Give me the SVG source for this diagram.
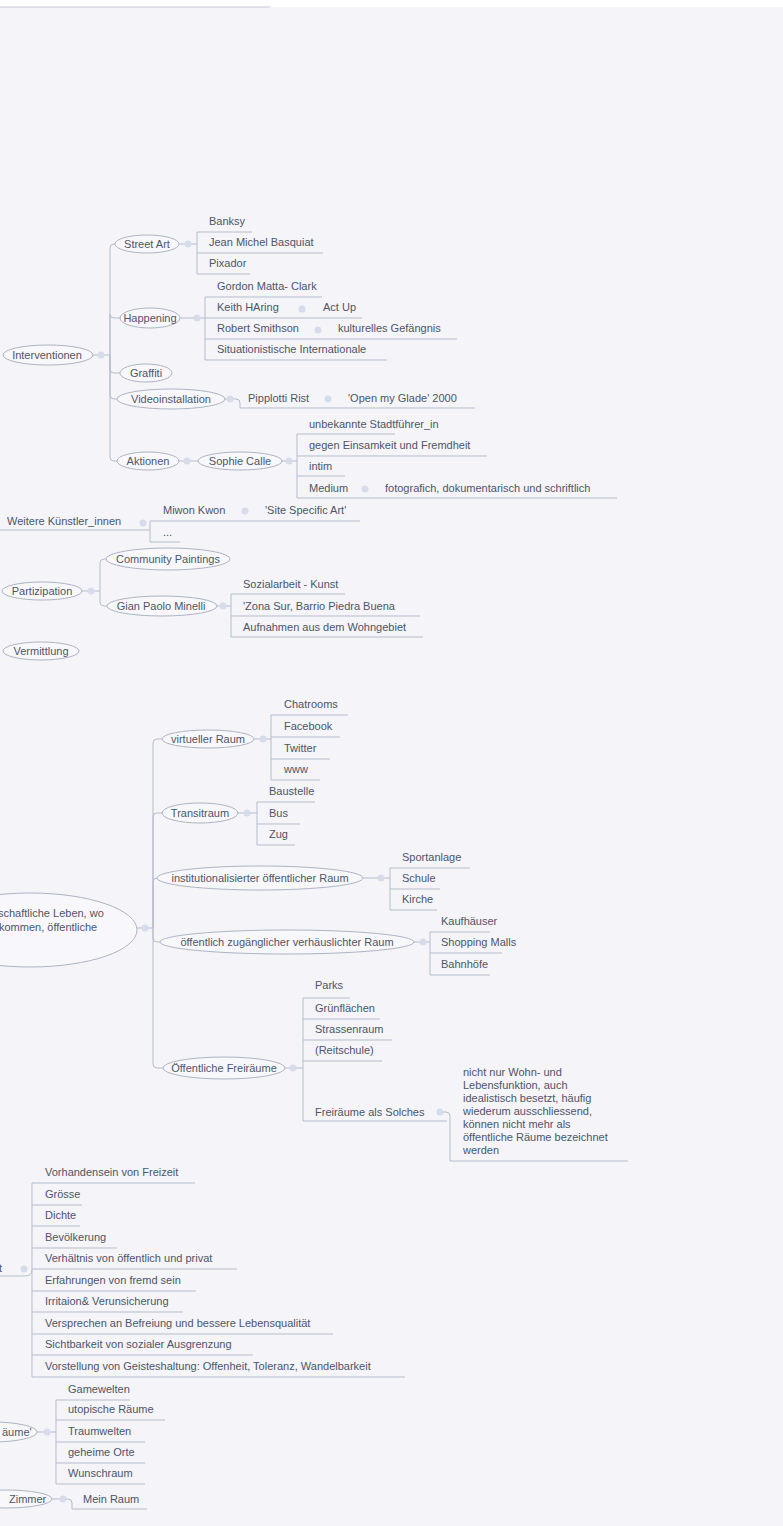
<svg xmlns="http://www.w3.org/2000/svg" width="783" height="1526" viewBox="0 0 783 1526">
<style>
.t{font-family:"Liberation Sans",Arial,sans-serif;font-size:11px;fill:#4e5568}
.m{text-anchor:middle}
.e{fill:#f8f8fc;stroke:#aeb4c4;stroke-width:1}
.c{fill:none;stroke:#b6bdcc;stroke-width:1}
.u{stroke:#b6bdcc;stroke-width:1}
.d{fill:#d6dcea}
</style>
<rect x="0" y="0" width="783" height="1526" fill="#f4f4f9"/>
<rect x="0" y="0" width="783" height="7" fill="#ffffff"/>
<line x1="0" y1="7" x2="270" y2="7" stroke="#c8c8d2" stroke-width="1"/>

<g id="connectors">
  <!-- Interventionen -->
  <path class="c" d="M93 355 H110 M110 355 V248 Q110 244 114 244 H115 M110 355 V314 Q110 318 114 318 H120 M110 355 V369 Q110 373 114 373 H120 M110 355 V395 Q110 399 114 399 H117 M110 355 V457 Q110 461 114 461 H117"/>
  <circle class="d" cx="101" cy="355" r="3.5"/>
  <!-- Street Art -->
  <path class="c" d="M179 244 H197 M197 232 V274"/>
  <circle class="d" cx="188" cy="244" r="3.5"/>
  <!-- Happening -->
  <path class="c" d="M180 318 H205 M205 297 V360"/>
  <circle class="d" cx="197" cy="318" r="3.5"/>
  <circle class="d" cx="302" cy="309" r="3.5"/>
  <circle class="d" cx="318" cy="330" r="3.5"/>
  <!-- Videoinstallation -->
  <path class="c" d="M225 399 H236 Q240 399 240 403 V408"/>
  <circle class="d" cx="230" cy="399" r="3.5"/>
  <circle class="d" cx="328" cy="399" r="3.5"/>
  <!-- Aktionen -->
  <path class="c" d="M179 461 H198"/>
  <circle class="d" cx="187" cy="461" r="3.5"/>
  <path class="c" d="M282 461 H297 M297 434 V498"/>
  <circle class="d" cx="289" cy="461" r="3.5"/>
  <circle class="d" cx="365" cy="489" r="3.5"/>
  <!-- Weitere -->
  <path class="c" d="M137 530 H150 M150 521 V542"/>
  <circle class="d" cx="143" cy="523" r="3.5"/>
  <circle class="d" cx="245" cy="511" r="3.5"/>
  <!-- Partizipation -->
  <path class="c" d="M82 591 H100 M100 591 V563 Q100 559 104 559 H106 M100 591 V602 Q100 606 104 606 H107"/>
  <circle class="d" cx="91" cy="591" r="3.5"/>
  <path class="c" d="M217 606 H231 M231 594 V637"/>
  <circle class="d" cx="223" cy="606" r="3.5"/>
  <!-- Raum root -->
  <path class="c" d="M137 928 H153 M153 928 V743 Q153 739 157 739 H162 M153 928 V817 Q153 813 157 813 H162 M153 928 V882 Q153 878 157 878 H157 M153 928 V938 Q153 942 157 942 H160 M153 928 V1064 Q153 1068 157 1068 H163"/>
  <circle class="d" cx="145" cy="928" r="3.5"/>
  <path class="c" d="M254 739 H271 M271 715 V780"/>
  <circle class="d" cx="263" cy="739" r="3.5"/>
  <path class="c" d="M238 813 H257 M257 802 V845"/>
  <circle class="d" cx="247" cy="813" r="3.5"/>
  <path class="c" d="M363 878 H390 M390 868 V910"/>
  <circle class="d" cx="381" cy="878" r="3.5"/>
  <path class="c" d="M414 942 H430 M430 932 V975"/>
  <circle class="d" cx="423" cy="942" r="3.5"/>
  <path class="c" d="M285 1068 H303 M303 998 V1121"/>
  <circle class="d" cx="293" cy="1068" r="3.5"/>
  <path class="c" d="M440 1112 H446 Q450 1112 450 1116 V1161"/>
  <circle class="d" cx="440" cy="1112" r="3.5"/>
  <!-- bottom list -->
  <path class="c" d="M16 1276 H24 Q32 1276 32 1270 M32 1183 V1377"/>
  <circle class="d" cx="24" cy="1269" r="3.5"/>
  <path class="c" d="M37 1432 H56 M56 1400 V1484"/>
  <circle class="d" cx="47" cy="1432" r="3.5"/>
  <path class="c" d="M52 1499 H68 Q72 1499 72 1503 V1509"/>
  <circle class="d" cx="63" cy="1499" r="3.5"/>
</g>

<g id="n-interventionen"><ellipse class="e" cx="48" cy="355" rx="45" ry="10"/><text class="t m" x="47" y="359">Interventionen</text></g>
<g id="n-streetart"><ellipse class="e" cx="147" cy="244" rx="32" ry="9"/><text class="t m" x="147" y="248">Street Art</text></g>
<g id="n-banksy"><text class="t" x="209" y="225">Banksy</text><line class="u" x1="197" y1="232" x2="252" y2="232"/></g>
<g id="n-basquiat"><text class="t" x="209" y="246">Jean Michel Basquiat</text><line class="u" x1="197" y1="253" x2="323" y2="253"/></g>
<g id="n-pixador"><text class="t" x="209" y="267">Pixador</text><line class="u" x1="197" y1="274" x2="250" y2="274"/></g>
<g id="n-happening"><ellipse class="e" cx="150" cy="318" rx="30" ry="10"/><text class="t m" x="150" y="322">Happening</text></g>
<g id="n-gordon"><text class="t" x="217" y="290">Gordon Matta- Clark</text><line class="u" x1="205" y1="297" x2="322" y2="297"/></g>
<g id="n-keith"><text class="t" x="217" y="311">Keith HAring</text><line class="u" x1="205" y1="318" x2="312" y2="318"/></g>
<g id="n-actup"><text class="t" x="323" y="311">Act Up</text><line class="u" x1="312" y1="318" x2="362" y2="318"/></g>
<g id="n-smithson"><text class="t" x="217" y="332">Robert Smithson</text><line class="u" x1="205" y1="339" x2="328" y2="339"/></g>
<g id="n-gefaengnis"><text class="t" x="338" y="332">kulturelles Gefängnis</text><line class="u" x1="328" y1="339" x2="457" y2="339"/></g>
<g id="n-situationisten"><text class="t" x="217" y="353">Situationistische Internationale</text><line class="u" x1="205" y1="360" x2="387" y2="360"/></g>
<g id="n-graffiti"><ellipse class="e" cx="146" cy="373" rx="26" ry="9"/><text class="t m" x="146" y="377">Graffiti</text></g>
<g id="n-video"><ellipse class="e" cx="171" cy="399" rx="54" ry="10"/><text class="t m" x="171" y="403">Videoinstallation</text></g>
<g id="n-pipplotti"><text class="t" x="248" y="402">Pipplotti Rist</text><line class="u" x1="240" y1="408" x2="338" y2="408"/></g>
<g id="n-glade"><text class="t" x="348" y="402">'Open my Glade' 2000</text><line class="u" x1="338" y1="408" x2="475" y2="408"/></g>
<g id="n-aktionen"><ellipse class="e" cx="148" cy="461" rx="31" ry="9"/><text class="t m" x="148" y="465">Aktionen</text></g>
<g id="n-calle"><ellipse class="e" cx="240" cy="461" rx="42" ry="9"/><text class="t m" x="240" y="465">Sophie Calle</text></g>
<g id="n-stadtfuehrer"><text class="t" x="309" y="428">unbekannte Stadtführer_in</text><line class="u" x1="297" y1="434" x2="395" y2="434"/></g>
<g id="n-einsamkeit"><text class="t" x="309" y="449">gegen Einsamkeit und Fremdheit</text><line class="u" x1="297" y1="456" x2="487" y2="456"/></g>
<g id="n-intim"><text class="t" x="309" y="470">intim</text><line class="u" x1="297" y1="476" x2="345" y2="476"/></g>
<g id="n-medium"><text class="t" x="309" y="492">Medium</text><line class="u" x1="297" y1="498" x2="375" y2="498"/></g>
<g id="n-fotografich"><text class="t" x="385" y="492">fotografich, dokumentarisch und schriftlich</text><line class="u" x1="375" y1="498" x2="617" y2="498"/></g>
<g id="n-weitere"><text class="t" x="7" y="525">Weitere Künstler_innen</text><line class="u" x1="0" y1="530" x2="137" y2="530"/></g>
<g id="n-kwon"><text class="t" x="163" y="514">Miwon Kwon</text><line class="u" x1="150" y1="521" x2="252" y2="521"/></g>
<g id="n-sitespecific"><text class="t" x="265" y="514">'Site Specific Art'</text><line class="u" x1="252" y1="521" x2="360" y2="521"/></g>
<g id="n-dots"><text class="t" x="163" y="536">...</text><line class="u" x1="150" y1="542" x2="180" y2="542"/></g>
<g id="n-partizipation"><ellipse class="e" cx="42" cy="591" rx="40" ry="9"/><text class="t m" x="42" y="595">Partizipation</text></g>
<g id="n-community"><ellipse class="e" cx="168" cy="559" rx="62" ry="11"/><text class="t m" x="168" y="563">Community Paintings</text></g>
<g id="n-minelli"><ellipse class="e" cx="162" cy="606" rx="55" ry="10"/><text class="t m" x="161" y="610">Gian Paolo Minelli</text></g>
<g id="n-sozialarbeit"><text class="t" x="243" y="588">Sozialarbeit - Kunst</text><line class="u" x1="231" y1="594" x2="345" y2="594"/></g>
<g id="n-zonasur"><text class="t" x="243" y="610">'Zona Sur, Barrio Piedra Buena</text><line class="u" x1="231" y1="616" x2="420" y2="616"/></g>
<g id="n-aufnahmen"><text class="t" x="243" y="631">Aufnahmen aus dem Wohngebiet</text><line class="u" x1="231" y1="637" x2="423" y2="637"/></g>
<g id="n-vermittlung"><ellipse class="e" cx="41" cy="651" rx="38" ry="9"/><text class="t m" x="41" y="655">Vermittlung</text></g>

<g id="n-raum-root"><ellipse class="e" cx="30" cy="930" rx="107" ry="37"/><text class="t" x="-2" y="917">schaftliche Leben, wo</text><text class="t" x="-1" y="931">kommen, öffentliche</text></g>
<g id="n-virtuell"><ellipse class="e" cx="208" cy="739" rx="46" ry="9"/><text class="t m" x="208" y="743">virtueller Raum</text></g>
<g id="n-chatrooms"><text class="t" x="284" y="708">Chatrooms</text><line class="u" x1="271" y1="715" x2="348" y2="715"/></g>
<g id="n-facebook"><text class="t" x="284" y="730">Facebook</text><line class="u" x1="271" y1="737" x2="340" y2="737"/></g>
<g id="n-twitter"><text class="t" x="284" y="752">Twitter</text><line class="u" x1="271" y1="759" x2="330" y2="759"/></g>
<g id="n-www"><text class="t" x="284" y="773">www</text><line class="u" x1="271" y1="780" x2="320" y2="780"/></g>
<g id="n-transit"><ellipse class="e" cx="200" cy="813" rx="38" ry="10"/><text class="t m" x="200" y="817">Transitraum</text></g>
<g id="n-baustelle"><text class="t" x="269" y="795">Baustelle</text><line class="u" x1="257" y1="802" x2="315" y2="802"/></g>
<g id="n-bus"><text class="t" x="269" y="817">Bus</text><line class="u" x1="257" y1="824" x2="300" y2="824"/></g>
<g id="n-zug"><text class="t" x="269" y="838">Zug</text><line class="u" x1="257" y1="845" x2="295" y2="845"/></g>
<g id="n-institution"><ellipse class="e" cx="260" cy="878" rx="103" ry="12"/><text class="t m" x="260" y="882">institutionalisierter öffentlicher Raum</text></g>
<g id="n-sportanlage"><text class="t" x="402" y="861">Sportanlage</text><line class="u" x1="390" y1="868" x2="470" y2="868"/></g>
<g id="n-schule"><text class="t" x="402" y="882">Schule</text><line class="u" x1="390" y1="889" x2="440" y2="889"/></g>
<g id="n-kirche"><text class="t" x="402" y="903">Kirche</text><line class="u" x1="390" y1="910" x2="437" y2="910"/></g>
<g id="n-verhaeuslicht"><ellipse class="e" cx="287" cy="942" rx="127" ry="12"/><text class="t m" x="287" y="946">öffentlich zugänglicher verhäuslichter Raum</text></g>
<g id="n-kaufhaeuser"><text class="t" x="441" y="925">Kaufhäuser</text><line class="u" x1="430" y1="932" x2="490" y2="932"/></g>
<g id="n-malls"><text class="t" x="441" y="946">Shopping Malls</text><line class="u" x1="430" y1="953" x2="502" y2="953"/></g>
<g id="n-bahnhoefe"><text class="t" x="441" y="968">Bahnhöfe</text><line class="u" x1="430" y1="975" x2="490" y2="975"/></g>
<g id="n-freiraeume"><ellipse class="e" cx="224" cy="1068" rx="61" ry="11"/><text class="t m" x="224" y="1072">Öffentliche Freiräume</text></g>
<g id="n-parks"><text class="t" x="315" y="989">Parks</text><line class="u" x1="303" y1="998" x2="350" y2="998"/></g>
<g id="n-gruenflaechen"><text class="t" x="315" y="1012">Grünflächen</text><line class="u" x1="303" y1="1019" x2="380" y2="1019"/></g>
<g id="n-strassenraum"><text class="t" x="315" y="1033">Strassenraum</text><line class="u" x1="303" y1="1040" x2="392" y2="1040"/></g>
<g id="n-reitschule"><text class="t" x="315" y="1054">(Reitschule)</text><line class="u" x1="303" y1="1061" x2="382" y2="1061"/></g>
<g id="n-solches"><text class="t" x="315" y="1116">Freiräume als Solches</text><line class="u" x1="303" y1="1121" x2="447" y2="1121"/></g>
<g id="n-nichtnur"><text class="t" x="463" y="1076">nicht nur Wohn- und</text><text class="t" x="463" y="1089">Lebensfunktion, auch</text><text class="t" x="463" y="1102">idealistisch besetzt, häufig</text><text class="t" x="463" y="1115">wiederum ausschliessend,</text><text class="t" x="463" y="1128">können nicht mehr als</text><text class="t" x="463" y="1141">öffentliche Räume bezeichnet</text><text class="t" x="463" y="1154">werden</text><line class="u" x1="450" y1="1161" x2="628" y2="1161"/></g>

<g id="n-t"><text class="t" x="-1" y="1272">t</text><line class="u" x1="0" y1="1276" x2="16" y2="1276"/></g>
<g id="n-freizeit"><text class="t" x="45" y="1176">Vorhandensein von Freizeit</text><line class="u" x1="32" y1="1183" x2="195" y2="1183"/></g>
<g id="n-groesse"><text class="t" x="45" y="1198">Grösse</text><line class="u" x1="32" y1="1205" x2="82" y2="1205"/></g>
<g id="n-dichte"><text class="t" x="45" y="1219">Dichte</text><line class="u" x1="32" y1="1226" x2="80" y2="1226"/></g>
<g id="n-bevoelkerung"><text class="t" x="45" y="1241">Bevölkerung</text><line class="u" x1="32" y1="1248" x2="117" y2="1248"/></g>
<g id="n-verhaeltnis"><text class="t" x="45" y="1262">Verhältnis von öffentlich und privat</text><line class="u" x1="32" y1="1269" x2="237" y2="1269"/></g>
<g id="n-erfahrungen"><text class="t" x="45" y="1284">Erfahrungen von fremd sein</text><line class="u" x1="32" y1="1291" x2="196" y2="1291"/></g>
<g id="n-irritation"><text class="t" x="45" y="1305">Irritaion&amp; Verunsicherung</text><line class="u" x1="32" y1="1312" x2="183" y2="1312"/></g>
<g id="n-versprechen"><text class="t" x="45" y="1327">Versprechen an Befreiung und bessere Lebensqualität</text><line class="u" x1="32" y1="1334" x2="333" y2="1334"/></g>
<g id="n-sichtbarkeit"><text class="t" x="45" y="1348">Sichtbarkeit von sozialer Ausgrenzung</text><line class="u" x1="32" y1="1355" x2="253" y2="1355"/></g>
<g id="n-vorstellung"><text class="t" x="45" y="1370">Vorstellung von Geisteshaltung: Offenheit, Toleranz, Wandelbarkeit</text><line class="u" x1="32" y1="1377" x2="405" y2="1377"/></g>

<g id="n-raeume"><ellipse class="e" cx="-8" cy="1432" rx="45" ry="10"/><text class="t" x="2" y="1436">äume'</text></g>
<g id="n-gamewelten"><text class="t" x="68" y="1393">Gamewelten</text><line class="u" x1="56" y1="1400" x2="130" y2="1400"/></g>
<g id="n-utopisch"><text class="t" x="68" y="1413">utopische Räume</text><line class="u" x1="56" y1="1420" x2="165" y2="1420"/></g>
<g id="n-traumwelten"><text class="t" x="68" y="1435">Traumwelten</text><line class="u" x1="56" y1="1442" x2="145" y2="1442"/></g>
<g id="n-geheim"><text class="t" x="68" y="1456">geheime Orte</text><line class="u" x1="56" y1="1463" x2="145" y2="1463"/></g>
<g id="n-wunschraum"><text class="t" x="68" y="1477">Wunschraum</text><line class="u" x1="56" y1="1484" x2="145" y2="1484"/></g>
<g id="n-zimmer"><ellipse class="e" cx="6" cy="1499" rx="46" ry="9"/><text class="t" x="9" y="1503">Zimmer</text></g>
<g id="n-meinraum"><text class="t" x="83" y="1503">Mein Raum</text><line class="u" x1="72" y1="1509" x2="147" y2="1509"/></g>
</svg>
